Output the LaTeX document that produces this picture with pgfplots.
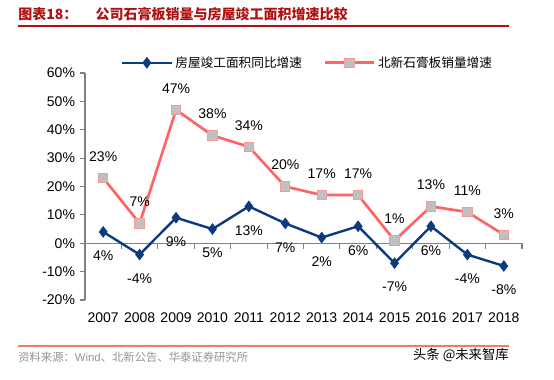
\documentclass[border=0pt]{standalone}
\usepackage{pgfplots}
\pgfplotsset{compat=1.18}
\usepackage{fontspec}
\setmainfont{Liberation Sans}
\newfontfamily\cjk{Noto Sans CJK SC}
\definecolor{navy}{HTML}{0B3A7E}
\definecolor{salmon}{HTML}{FF6464}
\definecolor{mk}{HTML}{C0C0C0}
\definecolor{mkb}{HTML}{F49A9A}
\definecolor{titlered}{HTML}{B01010}
\definecolor{bottomline}{HTML}{EE7B6B}
\begin{document}
\begin{tikzpicture}
\path (0pt,0pt) rectangle (415.5pt,284.25pt);
\node[anchor=base west, inner sep=0pt, text=titlered, font=\cjk\bfseries\fontsize{10.5}{12}\selectfont] at (13.5pt,269.5pt) {图表18：\hspace{1.3em}公司石膏板销量与房屋竣工面积增速比较};
\node[anchor=north west, inner sep=0pt] at (13.5pt,265.8pt) {\textcolor{titlered}{\rule{368.25pt}{1.6pt}}};
\node[anchor=north west, inner sep=0pt] at (13.5pt,25.8pt) {\textcolor{bottomline}{\rule{368.25pt}{1.6pt}}};
\node[anchor=base west, inner sep=0pt, text=gray!85, font=\cjk\fontsize{8.5}{10}\selectfont] at (13.5pt,12.75pt) {资料来源：{\rmfamily Wind}、北新公告、华泰证券研究所};
\node[anchor=base east, inner sep=0pt, text=black, font=\cjk\fontsize{10}{12}\selectfont] at (381.75pt,15pt) {头条 @未来智库};
\begin{axis}[
  at={(63.75pt,59.25pt)}, anchor=south west, scale only axis,
  width=327.75pt, height=170.25pt,
  xmin=-0.5, xmax=11.5, ymin=-20, ymax=60,
  separate axis lines,
  axis x line*=bottom, x axis line style={draw=none},
  axis y line*=left, y axis line style={draw=gray, line width=0.8pt},
  xtick={0,...,11},
  xticklabels={2007,2008,2009,2010,2011,2012,2013,2014,2015,2016,2017,2018},
  x tick style={draw=none},
  xticklabel style={font=\fontsize{10.5}{12}\selectfont, yshift=-2pt},
  ytick={-20,-10,...,60},
  yticklabel={\pgfmathprintnumber{\tick}\%},
  yticklabel style={font=\fontsize{10.5}{12}\selectfont},
  y tick style={draw=gray, line width=0.8pt},
  tick align=outside, major tick length=4pt,
  /pgf/number format/assume math mode=true,
  legend columns=2,
  legend style={draw=none, fill=none, at={(0.51,1.045)}, anchor=center,
    font=\cjk\fontsize{9.5}{11}\selectfont, /tikz/every even column/.append style={column sep=14pt}},
  legend image code/.code={\draw[mark repeat=2,mark phase=2] plot coordinates {(0cm,0cm) (0.65cm,0cm) (1.3cm,0cm)};},
  clip=false,
]
\draw[gray, line width=0.8pt] (axis cs:-0.5,0) -- (axis cs:11.5,0);
\pgfplotsinvokeforeach{0,...,11}{\draw[gray, line width=0.8pt] (axis cs:#1+0.5,0) -- ++(0pt,-4pt);}
\addplot[navy, line width=1.8pt, mark=diamond*, mark size=4pt, mark options={fill=navy, draw=navy, line width=0.5pt},
  nodes near coords={\pgfmathprintnumber{\pgfplotspointmeta}\%},
  point meta=y,
  every node near coord/.append style={anchor=center, yshift=-18pt, text=black, font=\fontsize{10.5}{12}\selectfont, /pgf/number format/assume math mode=true}]
coordinates {(0,4) (1,-4) (2,9) (3,5) (4,13) (5,7) (6,2) (7,6) (8,-7) (9,6) (10,-4) (11,-8)};
\addlegendentry{房屋竣工面积同比增速}
\addplot[salmon, line width=2pt, mark=square*, mark size=3.5pt, mark options={fill=mk, draw=mkb, line width=0.8pt},
  nodes near coords={\pgfmathprintnumber{\pgfplotspointmeta}\%},
  point meta=y,
  every node near coord/.append style={anchor=center, yshift=16pt, text=black, font=\fontsize{10.5}{12}\selectfont, /pgf/number format/assume math mode=true}]
coordinates {(0,23) (1,7) (2,47) (3,38) (4,34) (5,20) (6,17) (7,17) (8,1) (9,13) (10,11) (11,3)};
\addlegendentry{北新石膏板销量增速}
\end{axis}
\end{tikzpicture}
\end{document}
